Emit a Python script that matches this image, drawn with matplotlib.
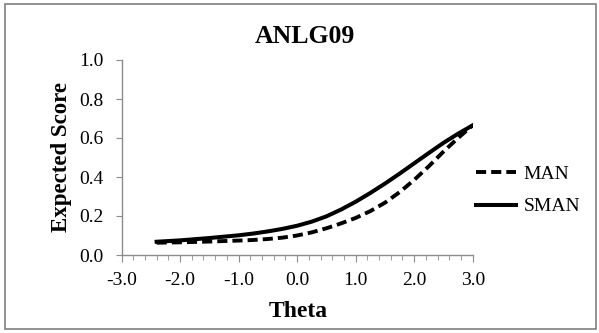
import matplotlib
matplotlib.use("Agg")
import matplotlib.pyplot as plt
from matplotlib.patches import Rectangle
from matplotlib.ticker import MultipleLocator

theta = [-2.4, -2.0, -1.5, -1.0, -0.75, -0.5, -0.25, 0.0, 0.25, 0.5, 0.75,
         1.0, 1.25, 1.5, 1.75, 2.0, 2.25, 2.5, 2.75, 3.0]
man = [0.063, 0.065, 0.069, 0.074, 0.077, 0.082, 0.089, 0.100, 0.116, 0.137, 0.162,
       0.190, 0.225, 0.268, 0.322, 0.385, 0.455, 0.530, 0.600, 0.665]
sman = [0.068, 0.075, 0.087, 0.101, 0.110, 0.121, 0.134, 0.150, 0.171, 0.198, 0.233,
        0.273, 0.318, 0.366, 0.417, 0.470, 0.523, 0.575, 0.622, 0.665]
xticks = [-3.0, -2.0, -1.0, 0.0, 1.0, 2.0, 3.0]
yticks = [0.0, 0.2, 0.4, 0.6, 0.8, 1.0]

plt.rcParams['font.family'] = ['Liberation Serif', 'DejaVu Serif']

W, H = 599, 333
fig = plt.figure(figsize=(W / 100, H / 100), dpi=100)
ax = fig.add_axes([121.5 / W, 1 - 255 / H, (472.7 - 121.5) / W, (255 - 60) / H])

ax.plot(theta, man, color='black', lw=2.8, linestyle=(0, (2.6, 1.3)), label='MAN')
ax.plot(theta, sman, color='black', lw=2.9, label='SMAN')

ax.set_xlim(-3.0, 3.0)
ax.set_ylim(0.0, 1.0)
ax.set_xticks(xticks)
ax.set_xticklabels([f"{v:.1f}" for v in xticks])
ax.xaxis.set_minor_locator(MultipleLocator(0.2))
ax.set_yticks(yticks)
ax.set_yticklabels([f"{v:.1f}" for v in yticks])

for s in ['top', 'right']:
    ax.spines[s].set_visible(False)
for s in ['left', 'bottom']:
    ax.spines[s].set_color('#8c8c8c')
    ax.spines[s].set_linewidth(1.0)

ax.tick_params(axis='both', which='both', direction='out', color='#8c8c8c', labelsize=14)
ax.tick_params(axis='x', which='major', length=5, pad=7)
ax.tick_params(axis='x', which='minor', length=3.5)
ax.tick_params(axis='y', which='major', length=4, pad=9)

fig.text(298.5 / W, 1 - 317 / H, 'Theta', ha='center', va='baseline',
         fontsize=17, fontweight='bold')
fig.text(61 / W, 1 - 157 / H, 'Expected Score', ha='center', va='center',
         rotation=90, fontsize=16.5, fontweight='bold')
fig.text(305 / W, 1 - 43 / H, 'ANLG09', ha='center', va='baseline',
         fontsize=18.5, fontweight='bold')

fig.legend(loc='center left', bbox_to_anchor=(476 / W, 1 - 190.5 / H), frameon=False,
           fontsize=14, handlelength=2.05, handletextpad=0.4, labelspacing=0.75,
           borderaxespad=0, borderpad=0)

fig.patches.append(Rectangle((4.5 / W, 1 - 329 / H), 591.5 / W, 325 / H,
                             transform=fig.transFigure, fill=False,
                             edgecolor='#7f7f7f', lw=1.2))

fig.savefig('out.png', dpi=100)
